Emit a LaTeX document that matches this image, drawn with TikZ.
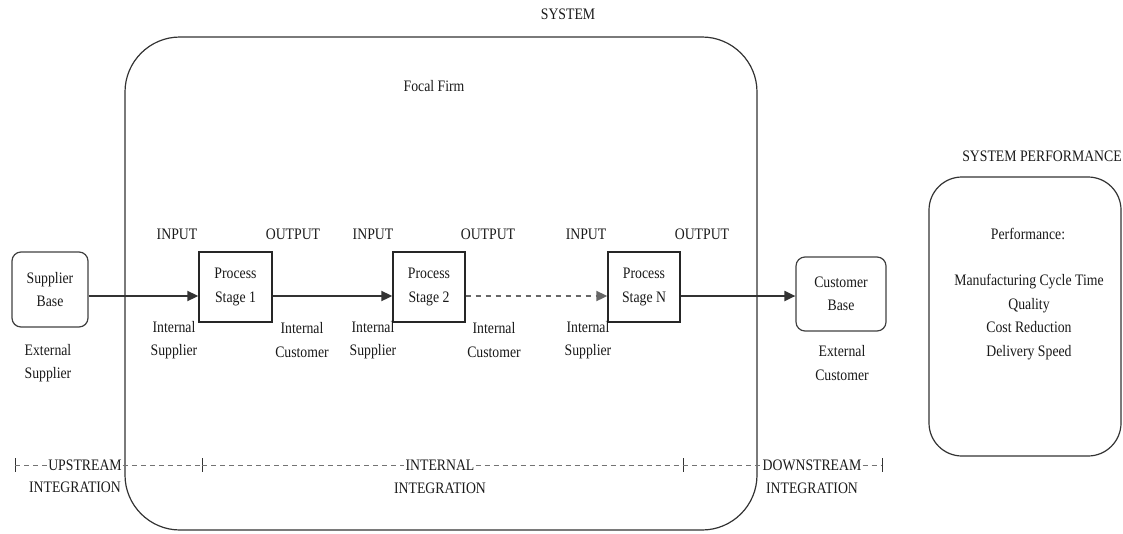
\documentclass[tikz,border=0pt]{standalone}
\usepackage{fontspec}
\setmainfont{Liberation Serif}[FakeStretch=0.86]
\usetikzlibrary{arrows.meta}

\begin{document}
\begin{tikzpicture}[x=1pt,y=1pt,
  txt/.style={font=\fontsize{16}{23.5}\selectfont, align=center, inner sep=0pt, text=black!90},
  frame/.style={draw=black!80, line width=1.2pt},
  stagebox/.style={draw=black!85, line width=1.4pt, minimum width=73pt, minimum height=70pt,
                   txt},
  basebox/.style={draw=black!75, line width=1.2pt, rounded corners=9pt, txt},
  flow/.style={draw=black!80, line width=2pt, -{Triangle[length=11pt,width=10pt]}},
  dflow/.style={flow, draw=black!60, dash pattern=on 5pt off 5pt},
  intdash/.style={draw=black!55, line width=1pt, dash pattern=on 5pt off 4pt},
  tick/.style={draw=black!80, line width=1pt},
  band/.style={txt, inner xsep=1pt}
]
\useasboundingbox (0,0) rectangle (1123,-533);

% system boundary and performance panel
\draw[frame, rounded corners=55pt] (125,-37) rectangle (757,-530);
\node[txt] (sys) at (568,-14) {SYSTEM};
\node[txt] (ff) at (434,-86) {Focal Firm};

\draw[frame, rounded corners=33pt] (929,-177) rectangle (1121,-456);
\node[txt] (sp) at (1042,-156) {SYSTEM PERFORMANCE};
\node[txt] (perf) at (1028,-234) {Performance:};
\node[txt] (plist) at (1029,-317) {Manufacturing Cycle Time\\Quality\\Cost Reduction\\Delivery Speed};

% chain of stages
\node[basebox, minimum width=76pt, minimum height=75pt] (sb) at (50,-289.5) {Supplier\\Base};
\node[stagebox] (ps1) at (235.5,-287) {Process\\Stage 1};
\node[stagebox, minimum width=72pt] (ps2) at (429,-287) {Process\\Stage 2};
\node[stagebox, minimum width=72pt] (psn) at (644,-287) {Process\\Stage N};
\node[basebox, minimum width=90pt, minimum height=74pt] (cb) at (841,-294) {Customer\\Base};

\draw[flow] (sb.east |- 0,-296) -- (ps1.west |- 0,-296);
\draw[flow] (ps1.east |- 0,-296) -- (ps2.west |- 0,-296);
\draw[dflow] (ps2.east |- 0,-296) -- (psn.west |- 0,-296);
\draw[flow] (psn.east |- 0,-296) -- (cb.west |- 0,-296);

% stage labels
\node[txt] (in1) at (177,-234) {INPUT};
\node[txt] (out1) at (293,-234) {OUTPUT};
\node[txt] (in2) at (373,-234) {INPUT};
\node[txt] (out2) at (488,-234) {OUTPUT};
\node[txt] (in3) at (586,-234) {INPUT};
\node[txt] (out3) at (702,-234) {OUTPUT};

\node[txt] (is1) at (174,-340) {Internal\\Supplier};
\node[txt] (ic1) at (302,-340) {Internal\\Customer};
\node[txt] (is2) at (373,-340) {Internal\\Supplier};
\node[txt] (ic2) at (494,-340) {Internal\\Customer};
\node[txt] (is3) at (588,-340) {Internal\\Supplier};

\node[txt] (es) at (48,-363) {External\\Supplier};
\node[txt] (ec) at (842,-363) {External\\Customer};

% integration bands
\coordinate (t1) at (15,-465);
\coordinate (t2) at (202,-465);
\coordinate (t3) at (683,-465);
\coordinate (t4) at (882,-465);
\foreach \t in {t1,t2,t3,t4}{
  \draw[tick] ([yshift=7pt]\t) -- ([yshift=-7pt]\t);
}
\node[band] (up) at (85,-465) {UPSTREAM};
\node[txt] (upi) at (75,-487) {INTEGRATION};
\node[band] (inn) at (440,-465) {INTERNAL};
\node[txt] (inni) at (440,-488) {INTEGRATION};
\node[band] (dn) at (812,-465) {DOWNSTREAM};
\node[txt] (dni) at (812,-488) {INTEGRATION};

\draw[intdash] (t1) -- (up.west);
\draw[intdash] (up.east) -- (t2);
\draw[intdash] (t2) -- (inn.west);
\draw[intdash] (inn.east) -- (t3);
\draw[intdash] (t3) -- (dn.west);
\draw[intdash] (dn.east) -- (t4);
\end{tikzpicture}
\end{document}
